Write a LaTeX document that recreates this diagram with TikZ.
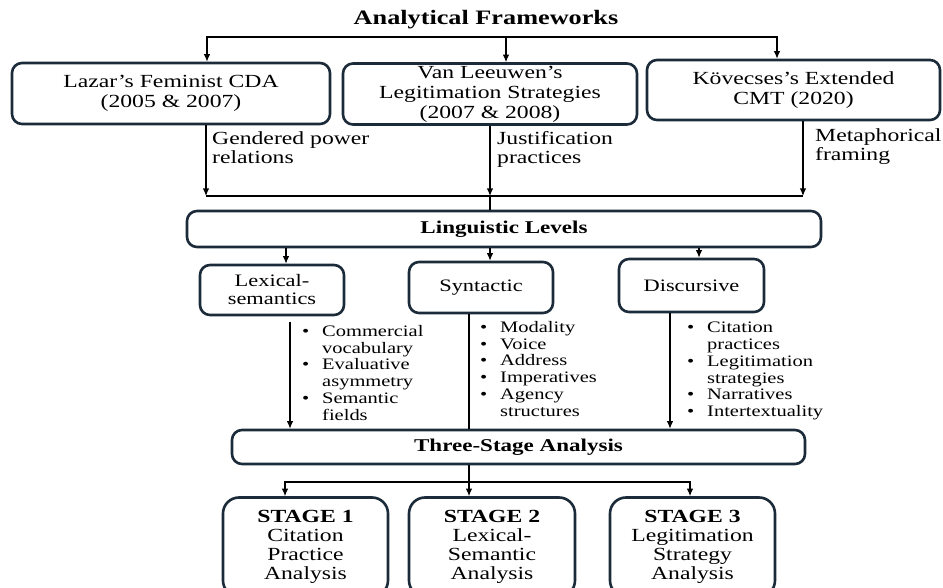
\documentclass[tikz,border=0pt]{standalone}
\usepackage{fontspec}
\setmainfont{Liberation Serif}[FakeStretch=1.28]
\usetikzlibrary{arrows.meta}
\definecolor{boxline}{HTML}{1C2B3A}
\newcommand\bulitem{\makebox[20pt][l]{•}}
\newcommand\bulind{\hspace*{20pt}}
\begin{document}
\begin{tikzpicture}[x=1pt,y=-1pt,
  box/.style={draw=boxline, line width=2.6pt, rounded corners=10pt, inner sep=0pt, align=center,
    font=\fontsize{18.5pt}{19.5pt}\selectfont},
  topbox/.style={box, font=\fontsize{18.5pt}{20pt}\selectfont},
  midbox/.style={box, font=\fontsize{17.5pt}{18pt}\selectfont},
  barbox/.style={box, font=\bfseries\fontsize{18pt}{19pt}\selectfont},
  stagebox/.style={box, rounded corners=16pt, font=\fontsize{18.5pt}{19pt}\selectfont},
  lbl/.style={inner sep=0pt, align=left, anchor=north west, font=\fontsize{18.5pt}{19pt}\selectfont},
  blist/.style={inner sep=0pt, align=left, anchor=north west, font=\fontsize{16pt}{16.8pt}\selectfont},
  conn/.style={line width=1.2pt, black},
  arr/.style={conn, -{Latex[length=7.5pt,width=6.5pt]}}]
\useasboundingbox (0,0) rectangle (943,588);
\clip (0,0) rectangle (943,588);

% title
\node[font=\bfseries\fontsize{20.5pt}{22pt}\selectfont] (title) at (486,20) {Analytical Frameworks};

% frameworks
\node[topbox, minimum width=318pt, minimum height=61pt] (lazar) at (171,93.5) {Lazar’s Feminist CDA\\(2005 \& 2007)};
\node[topbox, minimum width=294pt, minimum height=61pt] (vanl) at (490,94) {Van Leeuwen’s\\Legitimation Strategies\\(2007 \& 2008)};
\node[topbox, minimum width=293pt, minimum height=60pt] (kov) at (793.5,90) {Kövecses’s Extended\\CMT (2020)};

\coordinate (tl) at (207,37);
\coordinate (tm) at (506,37);
\coordinate (tr) at (777,37);
\draw[arr] (tm) -| (lazar.north -| tl);
\draw[arr] (tm) -| (kov.north -| tr);
\draw[arr] (tm) -- (vanl.north -| tm);

% labels
\node[lbl] (l1) at (212,131) {Gendered power\\relations};
\node[lbl] (l2) at (497,131) {Justification\\practices};
\node[lbl] (l3) at (815,128) {Metaphorical\\framing};

% linguistic levels
\node[barbox, minimum width=634pt, minimum height=36pt] (ling) at (504,229) {Linguistic Levels};
\coordinate (b1) at (206,196);
\coordinate (b2) at (490,196);
\coordinate (b3) at (803,196);
\draw[arr] (lazar.south -| b1) -- (b1);
\draw[arr] (vanl.south -| b2) -- (b2);
\draw[arr] (kov.south -| b3) -- (b3);
\draw[conn] (b1) -- (b3);
\draw[conn] (b2) -- (ling.north -| b2);

\node[midbox, minimum width=144pt, minimum height=50pt] (lex) at (272,290) {Lexical-\\semantics};
\node[midbox, minimum width=144pt, minimum height=51pt] (syn) at (481,287.5) {Syntactic};
\node[midbox, minimum width=145pt, minimum height=53pt] (dis) at (691.5,285.5) {Discursive};

\coordinate (x1) at (286,0);
\coordinate (x2) at (490,0);
\coordinate (x3) at (699,0);
\draw[arr] (ling.south -| x1) -- (lex.north -| x1);
\draw[arr] (ling.south -| x2) -- (syn.north -| x2);
\draw[arr] (ling.south -| x3) -- (dis.north -| x3);

% bullet lists
\node[blist] (lexlist) at (302,325) {\bulitem Commercial\\\bulind vocabulary\\\bulitem Evaluative\\\bulind asymmetry\\\bulitem Semantic\\\bulind fields};
\node[blist] (synlist) at (480,321) {\bulitem Modality\\\bulitem Voice\\\bulitem Address\\\bulitem Imperatives\\\bulitem Agency\\\bulind structures};
\node[blist] (dislist) at (687,322) {\bulitem Citation\\\bulind practices\\\bulitem Legitimation\\\bulind strategies\\\bulitem Narratives\\\bulitem Intertextuality};

% three-stage
\node[barbox, minimum width=573pt, minimum height=34pt] (three) at (518.5,447) {Three-Stage Analysis};
\coordinate (c1) at (290,0);
\coordinate (c2) at (469,0);
\coordinate (c3) at (670,0);
\draw[arr, shorten <=6pt] (lex.south -| c1) -- (three.north -| c1);
\draw[conn] (syn.south -| c2) -- (three.north -| c2);
\draw[arr] (dis.south -| c3) -- (three.north -| c3);

% stages
\node[stagebox, minimum width=165pt, minimum height=99pt] (st1) at (305.5,547) {\textbf{STAGE 1}\\Citation\\Practice\\Analysis};
\node[stagebox, minimum width=166pt, minimum height=99pt] (st2) at (492,547) {\textbf{STAGE 2}\\Lexical-\\Semantic\\Analysis};
\node[stagebox, minimum width=165pt, minimum height=99pt] (st3) at (692.5,547) {\textbf{STAGE 3}\\Legitimation\\Strategy\\Analysis};

\coordinate (sb) at (469,482);
\coordinate (s1) at (285,0);
\coordinate (s3) at (690,0);
\draw[arr] (three.south -| sb) -- (st2.north -| sb);
\draw[arr] (sb) -| (st1.north -| s1);
\draw[arr] (sb) -| (st3.north -| s3);
\end{tikzpicture}
\end{document}
